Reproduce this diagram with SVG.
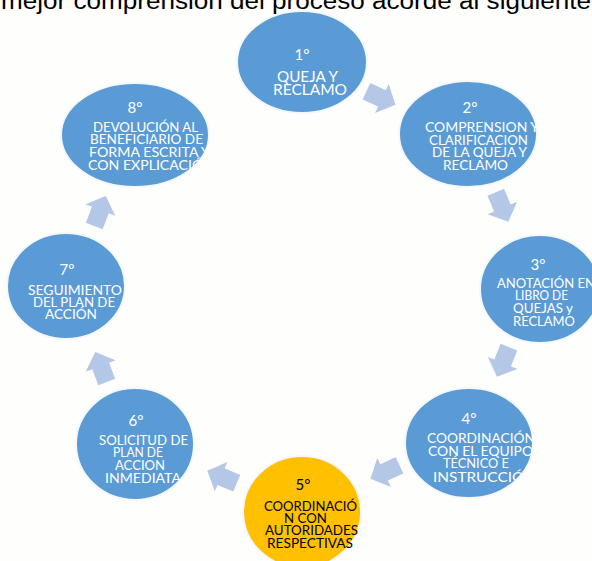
<svg xmlns="http://www.w3.org/2000/svg" width="592" height="561" viewBox="0 0 592 561">
<style>
.bg{fill:#FEFEFC}
.node{fill:#5B9BD5;stroke:#F4F7FB;stroke-width:2}
.node5{fill:#FFC000;stroke:#F4F7FB;stroke-width:2}
.arrow{fill:#B4C7E7}
.t{font-family:Lato,"Open Sans","Liberation Sans",sans-serif;font-size:14px;fill:#FFFFFF}
.t1{font-size:15.5px}
.dark{fill:#000000}
.deg{text-anchor:middle;font-size:15px}
.head{font-family:"Liberation Sans",Arial,sans-serif;font-size:23px;fill:#000000}
</style>
<defs>
<polygon id="arr" points="-16,-9 1,-9 1,-16 16,0 1,16 1,9 -16,9"/>
<clipPath id="c2"><rect x="380" y="70" width="157" height="130"/></clipPath>
<clipPath id="c4"><rect x="380" y="380" width="153" height="130"/></clipPath>
<clipPath id="c8"><rect x="50" y="70" width="157" height="130"/></clipPath>
</defs>
<rect class="bg" x="0" y="0" width="592" height="561"/>
<text class="head" x="1" y="9" textLength="590" lengthAdjust="spacingAndGlyphs">mejor comprensión del proceso acorde al siguiente</text>

<g id="connectors">
<use href="#arr" class="arrow" transform="translate(381,98) rotate(25)"/>
<use href="#arr" class="arrow" transform="translate(502,207) rotate(67)"/>
<use href="#arr" class="arrow" transform="translate(503,362) rotate(112)"/>
<use href="#arr" class="arrow" transform="translate(385,472) rotate(155)"/>
<use href="#arr" class="arrow" transform="translate(222,477) rotate(203)"/>
<use href="#arr" class="arrow" transform="translate(101,367) rotate(249)"/>
<use href="#arr" class="arrow" transform="translate(100,211) rotate(291)"/>
</g>

<g id="node1">
<ellipse class="node" cx="302" cy="62" rx="65" ry="51"/>
<text class="t t1 deg" x="302" y="60">1°</text>
<text class="t t1" x="277" y="82" textLength="61" lengthAdjust="spacingAndGlyphs">QUEJA Y</text>
<text class="t t1" x="273" y="95" textLength="74" lengthAdjust="spacingAndGlyphs">RECLAMO</text>
</g>

<g id="node2">
<ellipse class="node" cx="468" cy="134" rx="69" ry="53"/>
<g clip-path="url(#c2)">
<text class="t deg" x="470" y="113">2°</text>
<text class="t" x="425" y="132" textLength="114" lengthAdjust="spacingAndGlyphs">COMPRENSION Y</text>
<text class="t" x="429" y="145" textLength="99" lengthAdjust="spacingAndGlyphs">CLARIFICACION</text>
<text class="t" x="432" y="157" textLength="95" lengthAdjust="spacingAndGlyphs">DE LA QUEJA Y</text>
<text class="t" x="443" y="170" textLength="65" lengthAdjust="spacingAndGlyphs">RECLAMO</text>
</g>
</g>

<g id="node3">
<ellipse class="node" cx="540" cy="289" rx="60" ry="54"/>
<text class="t deg" x="538" y="270">3°</text>
<text class="t" x="497" y="288" textLength="98" lengthAdjust="spacingAndGlyphs">ANOTACIÓN EN</text>
<text class="t" x="515" y="300" textLength="53" lengthAdjust="spacingAndGlyphs">LIBRO DE</text>
<text class="t" x="513" y="313" textLength="60" lengthAdjust="spacingAndGlyphs">QUEJAS y</text>
<text class="t" x="513" y="326" textLength="62" lengthAdjust="spacingAndGlyphs">RECLAMO</text>
</g>

<g id="node4">
<ellipse class="node" cx="469" cy="443" rx="64" ry="55"/>
<g clip-path="url(#c4)">
<text class="t deg" x="469" y="424">4°</text>
<text class="t" x="427" y="443" textLength="108" lengthAdjust="spacingAndGlyphs">COORDINACIÓN</text>
<text class="t" x="428" y="456" textLength="105" lengthAdjust="spacingAndGlyphs">CON EL EQUIPO</text>
<text class="t" x="443" y="468" textLength="66" lengthAdjust="spacingAndGlyphs">TÉCNICO E</text>
<text class="t" x="433" y="482" textLength="103" lengthAdjust="spacingAndGlyphs">INSTRUCCIÓN</text>
</g>
</g>

<g id="node5">
<ellipse class="node5" cx="302" cy="512" rx="59" ry="56"/>
<text class="t dark deg" x="303" y="490">5°</text>
<text class="t dark" x="264" y="511" textLength="93" lengthAdjust="spacingAndGlyphs">COORDINACIÓ</text>
<text class="t dark" x="284" y="523" textLength="43" lengthAdjust="spacingAndGlyphs">N CON</text>
<text class="t dark" x="265" y="535" textLength="93" lengthAdjust="spacingAndGlyphs">AUTORIDADES</text>
<text class="t dark" x="267" y="548" textLength="86" lengthAdjust="spacingAndGlyphs">RESPECTIVAS</text>
</g>

<g id="node6">
<ellipse class="node" cx="135" cy="444" rx="59" ry="56"/>
<text class="t deg" x="136" y="426">6°</text>
<text class="t" x="99" y="445" textLength="89" lengthAdjust="spacingAndGlyphs">SOLICITUD DE</text>
<text class="t" x="113" y="457" textLength="50" lengthAdjust="spacingAndGlyphs">PLAN DE</text>
<text class="t" x="115" y="470" textLength="50" lengthAdjust="spacingAndGlyphs">ACCION</text>
<text class="t" x="105" y="483" textLength="76" lengthAdjust="spacingAndGlyphs">INMEDIATA</text>
</g>

<g id="node7">
<ellipse class="node" cx="66" cy="286" rx="59" ry="53"/>
<text class="t deg" x="67" y="275">7°</text>
<text class="t" x="28" y="295" textLength="94" lengthAdjust="spacingAndGlyphs">SEGUIMIENTO</text>
<text class="t" x="33" y="307" textLength="82" lengthAdjust="spacingAndGlyphs">DEL PLAN DE</text>
<text class="t" x="45" y="319" textLength="52" lengthAdjust="spacingAndGlyphs">ACCIÓN</text>
</g>

<g id="node8">
<ellipse class="node" cx="135" cy="135" rx="74" ry="52"/>
<g clip-path="url(#c8)">
<text class="t deg" x="135" y="113">8°</text>
<text class="t" x="93" y="132" textLength="105" lengthAdjust="spacingAndGlyphs">DEVOLUCIÓN AL</text>
<text class="t" x="90" y="144" textLength="113" lengthAdjust="spacingAndGlyphs">BENEFICIARIO DE</text>
<text class="t" x="89" y="157" textLength="121" lengthAdjust="spacingAndGlyphs">FORMA ESCRITA Y</text>
<text class="t" x="88" y="170" textLength="126" lengthAdjust="spacingAndGlyphs">CON EXPLICACIÓN</text>
</g>
</g>
</svg>
